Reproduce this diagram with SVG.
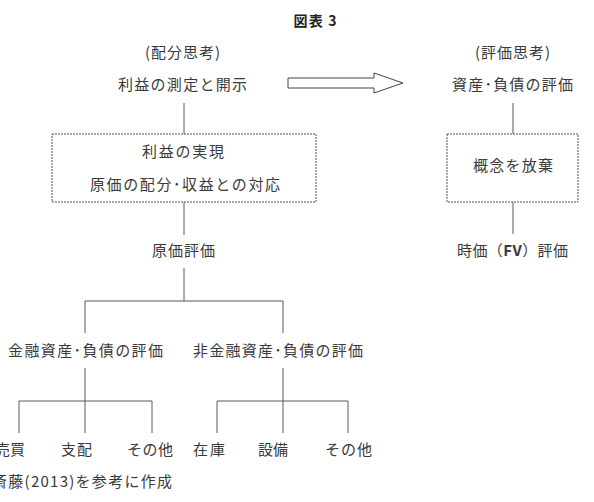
<svg xmlns="http://www.w3.org/2000/svg" width="594" height="502" viewBox="0 0 594 502">
<style>
text{font-family:"Noto Sans CJK JP","Noto Sans",sans-serif;font-size:15px;fill:#3a3a3a;lengthAdjust:spacing}
.c{text-anchor:middle}
.t{font-weight:bold;font-size:14px;fill:#222}
.ln{stroke:#5a5a5a;stroke-width:1;fill:none}
.box{fill:#fff;stroke:#555;stroke-width:1;stroke-dasharray:2 1}
</style>
<rect width="594" height="502" fill="#fff"/>
<g id="title"><text class="c t" x="315" y="26" textLength="43" lengthAdjust="spacing">図表 3</text></g>
<g id="connectors">
<polygon points="288,78 374,78 374,73 403,83 374,93 374,88 288,88" fill="#fff" stroke="#444" stroke-width="1"/>
<path class="ln" d="M184,103V134M184,202V235M184,268V301M85,301H283M85,301V333M283,301V333M85,368V401M19,401H152M19,401V433M85,401V433M152,401V433M283,368V401M217,401H348M217,401V433M283,401V433M348,401V433M513,103V134M513,202V234"/>
</g>
<g id="h-left"><text class="c" x="182.5" y="58" textLength="75" lengthAdjust="spacing">(配分思考)</text></g>
<g id="h-right"><text class="c" x="512.5" y="58" textLength="75" lengthAdjust="spacing">(評価思考)</text></g>
<g id="n-measure"><text class="c" x="182.5" y="90" textLength="129" lengthAdjust="spacing">利益の測定と開示</text></g>
<g id="n-assets"><text class="c" x="512.5" y="90" textLength="121" lengthAdjust="spacing">資産･負債の評価</text></g>
<g id="n-realize">
<rect class="box" x="52" y="134" width="264" height="68"/>
<text class="c" x="183" y="157" textLength="82" lengthAdjust="spacing">利益の実現</text>
<text class="c" x="185" y="190" textLength="190" lengthAdjust="spacing">原価の配分･収益との対応</text>
</g>
<g id="n-abandon">
<rect class="box" x="447" y="134" width="131" height="68"/>
<text class="c" x="513" y="171" textLength="80" lengthAdjust="spacing">概念を放棄</text>
</g>
<g id="n-cost"><text class="c" x="183.5" y="256" textLength="63" lengthAdjust="spacing">原価評価</text></g>
<g id="n-fv"><text class="c" x="512.5" y="256" textLength="111" lengthAdjust="spacing">時価（<tspan font-weight="bold">FV</tspan>）評価</text></g>
<g id="n-fin"><text class="c" x="85.5" y="356" textLength="155" lengthAdjust="spacing">金融資産･負債の評価</text></g>
<g id="n-nonfin"><text class="c" x="278" y="356" textLength="170" lengthAdjust="spacing">非金融資産･負債の評価</text></g>
<g id="l-trade"><text x="-5" y="455" textLength="30" lengthAdjust="spacing">売買</text></g>
<g id="l-control"><text x="61" y="455" textLength="31" lengthAdjust="spacing">支配</text></g>
<g id="l-other1"><text x="127" y="455" textLength="46" lengthAdjust="spacing">その他</text></g>
<g id="l-inventory"><text x="193" y="455" textLength="32" lengthAdjust="spacing">在庫</text></g>
<g id="l-equip"><text x="258" y="455" textLength="30" lengthAdjust="spacing">設備</text></g>
<g id="l-other2"><text x="325" y="455" textLength="47" lengthAdjust="spacing">その他</text></g>
<g id="footnote"><text x="-8" y="487" textLength="180" lengthAdjust="spacing">斎藤(2013)を参考に作成</text></g>
</svg>
